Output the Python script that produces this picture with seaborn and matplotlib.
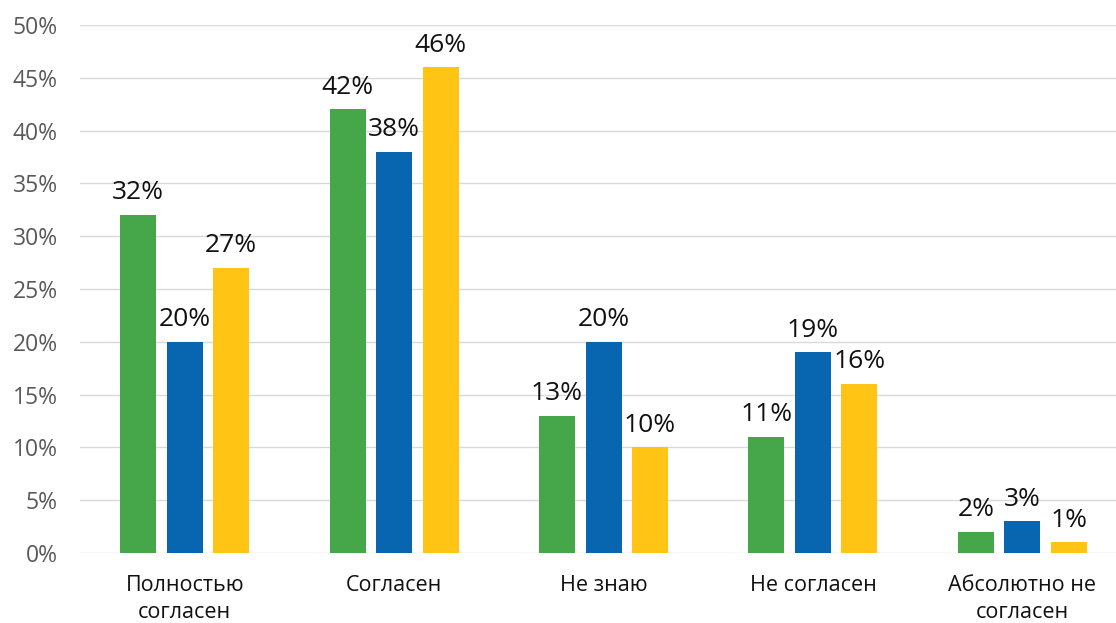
import matplotlib
matplotlib.use("Agg")
import matplotlib.pyplot as plt
import seaborn as sns
import pandas as pd
from matplotlib.ticker import FuncFormatter

# данные (в процентах)
categories = ["Полностью\nсогласен", "Согласен", "Не знаю", "Не согласен", "Абсолютно не\nсогласен"]
series_names = ["Серия 1", "Серия 2", "Серия 3"]
series_1 = [32, 42, 13, 11, 2]
series_2 = [20, 38, 20, 19, 3]
series_3 = [27, 46, 10, 16, 1]
colors = ["#46A64A", "#0866B0", "#FFC414"]

rows = []
for name, vals in zip(series_names, [series_1, series_2, series_3]):
    for cat, v in zip(categories, vals):
        rows.append({"Категория": cat, "Серия": name, "Значение": v})
df = pd.DataFrame(rows)

sns.set_style("white")
plt.rcParams["font.family"] = ["Open Sans", "DejaVu Sans"]

fig = plt.figure(figsize=(11.16, 6.23), dpi=100)
ax = fig.add_axes([80 / 1116, 70 / 623, 1036 / 1116, 528 / 623])

sns.barplot(data=df, x="Категория", y="Значение", hue="Серия", palette=colors,
            width=0.666, gap=0.225, legend=False, ax=ax, saturation=1, linewidth=0)

for cont in ax.containers:
    ax.bar_label(cont, fmt="%d%%", padding=7, fontsize=19, color="#111111")

ax.set_ylim(0, 50)
ax.set_xlim(-0.5, 4.447)
ax.set_yticks(range(0, 51, 5))
ax.yaxis.set_major_formatter(FuncFormatter(lambda v, p: f"{int(v)}%"))
ax.grid(axis="y", color="#D9D9D9", linewidth=1)
ax.set_axisbelow(True)
for s in ax.spines.values():
    s.set_visible(False)
ax.tick_params(axis="y", length=0, pad=16, labelsize=16.5, labelcolor="#595959")
ax.tick_params(axis="x", length=0, pad=16, labelsize=15.5, labelcolor="#111111")
for t in ax.get_xticklabels():
    t.set_linespacing(1.35)
ax.set_xlabel("")
ax.set_ylabel("")

fig.savefig("out.png", dpi=100)
